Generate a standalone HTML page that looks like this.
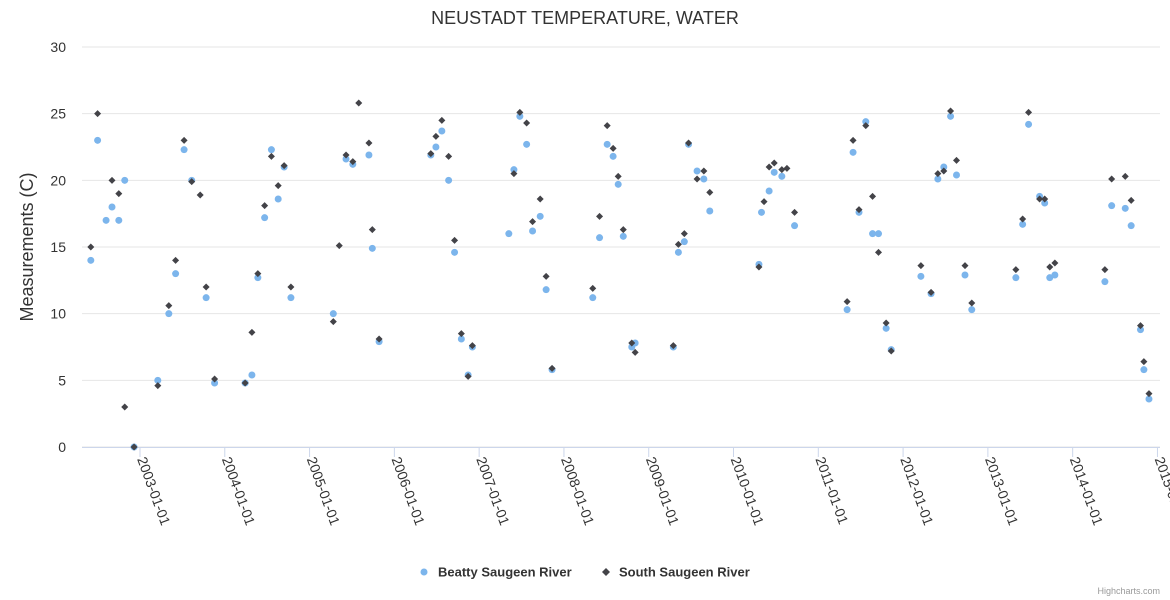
<!DOCTYPE html>
<html><head><meta charset="utf-8"><style>
html,body{margin:0;padding:0;background:#fff;}
svg{display:block;font-family:"Liberation Sans",sans-serif;}
</style></head><body>
<svg id="chart" width="1170" height="600" viewBox="0 0 1170 600">
<rect width="1170" height="600" fill="#fff"/>
<text x="585" y="24" text-anchor="middle" font-size="18" fill="#333">NEUSTADT TEMPERATURE, WATER</text>
<text transform="translate(33,247) rotate(-90)" text-anchor="middle" font-size="18" fill="#333">Measurements (C)</text>
<g id="grid"></g><g id="xaxis"></g><g id="blue"></g><g id="black"></g>
<g>
<g><circle cx="424" cy="572" r="3.5" fill="#7cb5ec"/><text x="438" y="576.5" font-size="13" font-weight="bold" fill="#333">Beatty Saugeen River</text></g>
<g><path d="M606 568 L610 572 L606 576 L602 572Z" fill="#434348"/><text x="619" y="576.5" font-size="13" font-weight="bold" fill="#333">South Saugeen River</text></g>
</g>
<text x="1160" y="594" text-anchor="end" font-size="9" fill="#999">Highcharts.com</text>
</svg>
<script>
const yTicks=[0,5,10,15,20,25,30];
const xTickLabels=["2003-01-01","2004-01-01","2005-01-01","2006-01-01","2007-01-01","2008-01-01","2009-01-01","2010-01-01","2011-01-01","2012-01-01","2013-01-01","2014-01-01","2015-01-01"];
const beattyYears=[2002.42,2002.50,2002.60,2002.67,2002.75,2002.82,2002.93,2003.21,2003.34,2003.42,2003.52,2003.61,2003.78,2003.88,2004.24,2004.32,2004.39,2004.47,2004.55,2004.63,2004.70,2004.78,2005.28,2005.43,2005.51,2005.70,2005.74,2005.82,2006.43,2006.49,2006.56,2006.64,2006.71,2006.79,2006.87,2006.92,2007.35,2007.41,2007.48,2007.56,2007.63,2007.72,2007.79,2007.86,2008.34,2008.42,2008.51,2008.58,2008.64,2008.70,2008.80,2008.84,2009.29,2009.35,2009.42,2009.47,2009.57,2009.65,2009.72,2010.30,2010.33,2010.42,2010.48,2010.57,2010.72,2011.34,2011.41,2011.48,2011.56,2011.64,2011.71,2011.80,2011.86,2012.21,2012.33,2012.41,2012.48,2012.56,2012.63,2012.73,2012.81,2013.33,2013.41,2013.48,2013.61,2013.67,2013.73,2013.79,2014.38,2014.46,2014.62,2014.69,2014.80,2014.84,2014.90];
const beattyValues=[14.0,23.0,17.0,18.0,17.0,20.0,0.0,5.0,10.0,13.0,22.3,20.0,11.2,4.8,4.8,5.4,12.7,17.2,22.3,18.6,21.0,11.2,10.0,21.6,21.2,21.9,14.9,7.9,21.9,22.5,23.7,20.0,14.6,8.1,5.4,7.5,16.0,20.8,24.8,22.7,16.2,17.3,11.8,5.8,11.2,15.7,22.7,21.8,19.7,15.8,7.5,7.8,7.5,14.6,15.4,22.7,20.7,20.1,17.7,13.7,17.6,19.2,20.6,20.3,16.6,10.3,22.1,17.6,24.4,16.0,16.0,8.9,7.3,12.8,11.5,20.1,21.0,24.8,20.4,12.9,10.3,12.7,16.7,24.2,18.8,18.3,12.7,12.9,12.4,18.1,17.9,16.6,8.8,5.8,3.6];
const southYears=[2002.42,2002.50,2002.67,2002.75,2002.82,2002.93,2003.21,2003.34,2003.42,2003.52,2003.61,2003.71,2003.78,2003.88,2004.24,2004.32,2004.39,2004.47,2004.55,2004.63,2004.70,2004.78,2005.28,2005.35,2005.43,2005.51,2005.58,2005.70,2005.74,2005.82,2006.43,2006.49,2006.56,2006.64,2006.71,2006.79,2006.87,2006.92,2007.41,2007.48,2007.56,2007.63,2007.72,2007.79,2007.86,2008.34,2008.42,2008.51,2008.58,2008.64,2008.70,2008.80,2008.84,2009.29,2009.35,2009.42,2009.47,2009.57,2009.65,2009.72,2010.30,2010.36,2010.42,2010.48,2010.57,2010.63,2010.72,2011.34,2011.41,2011.48,2011.56,2011.64,2011.71,2011.80,2011.86,2012.21,2012.33,2012.41,2012.48,2012.56,2012.63,2012.73,2012.81,2013.33,2013.41,2013.48,2013.61,2013.67,2013.73,2013.79,2014.38,2014.46,2014.62,2014.69,2014.80,2014.84,2014.90];
const southValues=[15.0,25.0,20.0,19.0,3.0,0.0,4.6,10.6,14.0,23.0,19.9,18.9,12.0,5.1,4.8,8.6,13.0,18.1,21.8,19.6,21.1,12.0,9.4,15.1,21.9,21.4,25.8,22.8,16.3,8.1,22.0,23.3,24.5,21.8,15.5,8.5,5.3,7.6,20.5,25.1,24.3,16.9,18.6,12.8,5.9,11.9,17.3,24.1,22.4,20.3,16.3,7.8,7.1,7.6,15.2,16.0,22.8,20.1,20.7,19.1,13.5,18.4,21.0,21.3,20.8,20.9,17.6,10.9,23.0,17.8,24.1,18.8,14.6,9.3,7.2,13.6,11.6,20.5,20.7,25.2,21.5,13.6,10.8,13.3,17.1,25.1,18.6,18.6,13.5,13.8,13.3,20.1,20.3,18.5,9.1,6.4,4.0];
const NS="http://www.w3.org/2000/svg";
const L=82,R=1160,T=47,B=447,xMin=2002.316,xMax=2015.03,yMin=0,yMax=30;
const xs=v=>L+(v-xMin)/(xMax-xMin)*(R-L);
const ys=v=>B-(v-yMin)/(yMax-yMin)*(B-T);
function mk(tag,attrs,parent){const e=document.createElementNS(NS,tag);for(const k in attrs)e.setAttribute(k,attrs[k]);parent.appendChild(e);return e;}
const grid=document.getElementById('grid');
yTicks.forEach(t=>{
  const ln=mk('line',{x1:L,x2:R,y1:ys(t),y2:ys(t),stroke:'#e6e6e6','stroke-width':1},grid);
  
  
  const tx=mk('text',{x:66,y:ys(t)+5,'text-anchor':'end','font-size':14,fill:'#333'},grid);
  tx.textContent=t;
  
  
});
const xa=document.getElementById('xaxis');
const axl=mk('line',{x1:L,x2:R,y1:B+0.5,y2:B+0.5,stroke:'#ccd6eb'},xa);


xTickLabels.forEach(lbl=>{
  const x=xs(parseInt(lbl.slice(0,4)));
  const tk=mk('line',{x1:x,x2:x,y1:B,y2:B+10,stroke:'#ccd6eb'},xa);
  
  
  const tx=mk('text',{x:0,y:0,'font-size':14,fill:'#333',transform:`translate(${x-3},${B+12}) rotate(70)`},xa);
  tx.textContent=lbl;
  
  
});
const gb=document.getElementById('blue');
beattyYears.forEach((yr,i)=>{
  const c=mk('circle',{cx:xs(yr),cy:ys(beattyValues[i]),r:3.5,fill:'#7cb5ec'},gb);
  
  
});
const gk=document.getElementById('black');
southYears.forEach((yr,i)=>{
  const x=xs(yr),y=ys(southValues[i]);
  const p=mk('path',{d:`M${x} ${y-3.5}L${x+3.5} ${y}L${x} ${y+3.5}L${x-3.5} ${y}Z`,fill:'#434348'},gk);
  
  
});
</script>
</body></html>
